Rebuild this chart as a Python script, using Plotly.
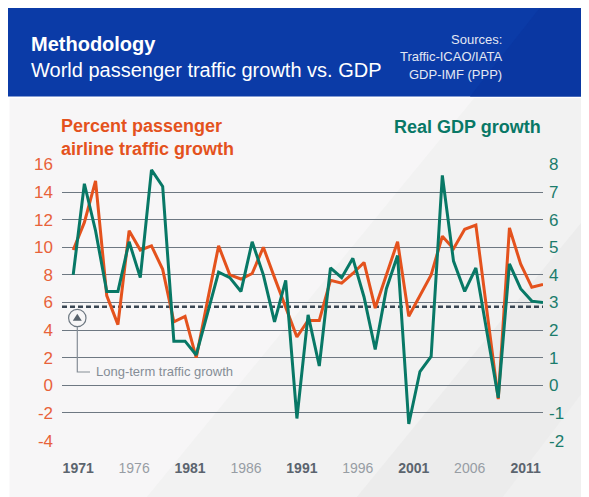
import plotly.graph_objects as go

# ---------------- data ----------------
years = list(range(1971, 2014))
traffic_growth = [9.8, 11.8, 14.8, 6.5, 4.4, 11.2, 9.8, 10.1, 8.4, 4.6,
                  5.0, 2.0, 6.1, 10.1, 8.0, 7.7, 8.1, 10.0, 7.8, 5.7,
                  3.5, 4.7, 4.7, 7.6, 7.4, 8.1, 8.9, 5.6, 8.0, 10.4,
                  5.0, 6.5, 8.0, 10.8, 9.9, 11.3, 11.6, 5.3, -1.0, 11.4,
                  8.8, 7.1, 7.3]
gdp_growth = [4.0, 7.3, 5.6, 3.4, 3.4, 5.2, 3.9, 7.8, 7.2, 1.6,
              1.6, 1.1, 2.6, 4.1, 3.9, 3.4, 5.2, 4.0, 2.3, 3.8,
              -1.2, 2.55, 0.7, 4.25, 3.9, 4.6, 3.2, 1.3, 3.5, 4.7,
              -1.4, 0.5, 1.05, 7.6, 4.5, 3.4, 4.25, 1.9, -0.45, 4.4,
              3.5, 3.05, 3.0]
long_term_traffic_growth = 5.7

x_tick_years = [1971, 1976, 1981, 1986, 1991, 1996, 2001, 2006, 2011]
bold_years = {1971, 1981, 1991, 2001, 2011}
left_ticks = [-4, -2, 0, 2, 4, 6, 8, 10, 12, 14, 16]
right_ticks = [-2, -1, 0, 1, 2, 3, 4, 5, 6, 7, 8]

# ---------------- styling ----------------
W, H = 589, 497
OFF = 8  # page body margin
# plot-area edges in page (screen) pixels
PL, PR, PT, PB = 62, 543, 164.3, 441.3
ORANGE = "#e4521d"
GREEN = "#087866"
BLUE = "#0b3ba7"
GRID = "#6e7882"
FONT = "Liberation Sans, Arial, sans-serif"


def px(x):
    return (x - PL) / (PR - PL)


def py(y):
    return (PB - y) / (PB - PT)


fig = go.Figure()
fig.add_trace(go.Scatter(x=years, y=traffic_growth, mode="lines",
                         line=dict(color=ORANGE, width=3), yaxis="y",
                         name="Traffic", hoverinfo="x+y"))
fig.add_trace(go.Scatter(x=years, y=gdp_growth, mode="lines",
                         line=dict(color=GREEN, width=3), yaxis="y2",
                         name="GDP", hoverinfo="x+y"))

shapes = []
# header band
shapes.append(dict(type="rect", xref="paper", yref="paper", x0=px(8), x1=px(600),
                   y0=py(8), y1=py(96.7), fillcolor=BLUE, line_width=0, layer="below"))
shapes.append(dict(type="path", xref="paper", yref="paper",
                   path=f"M {px(470)} {py(96.7)} L {px(540)} {py(8)} L {px(600)} {py(8)} L {px(600)} {py(96.7)} Z",
                   fillcolor="#0a37a2", line_width=0, layer="below"))
# grey panel
shapes.append(dict(type="rect", xref="paper", yref="paper", x0=px(9.5), x1=px(600),
                   y0=py(510), y1=py(98.5), fillcolor="#f7f6f7", line_width=0, layer="below"))
shapes.append(dict(type="path", xref="paper", yref="paper",
                   path=f"M {px(147)} {py(497)} L {px(474)} {py(98.5)} L {px(600)} {py(98.5)} L {px(600)} {py(510)} L {px(140)} {py(510)} Z",
                   fillcolor="#f2f2f2", line_width=0, layer="below"))
shapes.append(dict(type="path", xref="paper", yref="paper",
                   path=f"M {px(357)} {py(497)} L {px(600)} {py(200)} L {px(600)} {py(510)} L {px(350)} {py(510)} Z",
                   fillcolor="#ececec", line_width=0, layer="below"))
shapes.append(dict(type="path", xref="paper", yref="paper",
                   path=f"M {px(503)} {py(497)} L {px(600)} {py(370)} L {px(600)} {py(510)} L {px(495)} {py(510)} Z",
                   fillcolor="#f0f0f0", line_width=0, layer="below"))
# long-term growth dashed line
shapes.append(dict(type="line", xref="paper", yref="y", x0=0, x1=1,
                   y0=long_term_traffic_growth, y1=long_term_traffic_growth,
                   line=dict(color="#3a4653", width=2.5, dash="5px,3px"), layer="below"))
# callout circle, triangle and leader
shapes.append(dict(type="circle", xref="paper", yref="paper",
                   x0=px(77.3 - 8.7), x1=px(77.3 + 8.7), y0=py(318.3 + 8.7), y1=py(318.3 - 8.7),
                   line=dict(color="#6e7882", width=1.2), fillcolor="#f7f6f7"))
shapes.append(dict(type="path", xref="paper", yref="paper",
                   path=f"M {px(72.8)} {py(321)} L {px(81.8)} {py(321)} L {px(77.3)} {py(314)} Z",
                   fillcolor="#59636d", line_width=0))
shapes.append(dict(type="path", xref="paper", yref="paper",
                   path=f"M {px(77.3)} {py(327)} L {px(77.3)} {py(372.3)} L {px(90)} {py(372.3)}",
                   line=dict(color="#858d96", width=1.2)))


def ann(text, x, y, xa, ya, size, color, align="left"):
    return dict(text=text, x=px(x), y=py(y), xanchor=xa, yanchor=ya, align=align,
                font=dict(size=size, color=color, family=FONT), showarrow=False,
                xref="paper", yref="paper")


annotations = [
    ann("<b>Methodology</b>", 29, 44.5, "left", "middle", 20, "white"),
    ann("World passenger traffic growth vs. GDP", 29, 70.5, "left", "middle", 20, "white"),
    ann("Sources:", 504, 39.5, "right", "middle", 13, "#e4e8f3"),
    ann("Traffic-ICAO/IATA", 504, 57, "right", "middle", 13, "#e4e8f3"),
    ann("GDP-IMF (PPP)", 504, 74.5, "right", "middle", 13, "#e4e8f3"),
    ann("<b>Percent passenger<br>airline traffic growth</b>", 59, 114, "left", "top", 18, ORANGE),
    ann("<b>Real GDP growth</b>", 543, 127, "right", "middle", 18, GREEN),
    ann("Long-term traffic growth", 94, 372, "left", "middle", 13, "#858d96"),
]

ticktext = []
for yr in x_tick_years:
    if yr in bold_years:
        ticktext.append(f"<b>{yr}</b>")
    else:
        ticktext.append(f"<span style='color:#979da4'>{yr}</span>")

left_text = [str(v) for v in left_ticks]
right_text = [str(v) for v in right_ticks]

fig.update_layout(
    width=W, height=H,
    margin=dict(l=PL - OFF, r=W - (PR - OFF), t=PT - OFF, b=H - (PB - OFF), pad=0),
    paper_bgcolor="white",
    plot_bgcolor="rgba(0,0,0,0)",
    showlegend=False,
    shapes=shapes,
    annotations=annotations,
    font=dict(family=FONT),
    xaxis=dict(range=[1970, 2013], tickvals=x_tick_years, ticktext=ticktext,
               showgrid=False, zeroline=False, showline=False,
               tickfont=dict(size=14, color="#5b646e", family=FONT),
               ticks="", ticklabelstandoff=17, ticklabelshift=5),
    yaxis=dict(range=[-4.03, 16.03], tickvals=left_ticks, ticktext=left_text, showgrid=True,
               gridcolor=GRID, gridwidth=1.2, zeroline=False, showline=False,
               tickfont=dict(size=17, color="#e8623a", family=FONT),
               ticks="", ticklabelstandoff=8),
    yaxis2=dict(range=[-2.015, 8.015], tickvals=right_ticks, ticktext=right_text,
                overlaying="y", side="right",
                showgrid=False, zeroline=False, showline=False,
                tickfont=dict(size=17, color="#1b7c6c", family=FONT),
                ticks="", ticklabelstandoff=5),
)

fig.write_html("out.html")
